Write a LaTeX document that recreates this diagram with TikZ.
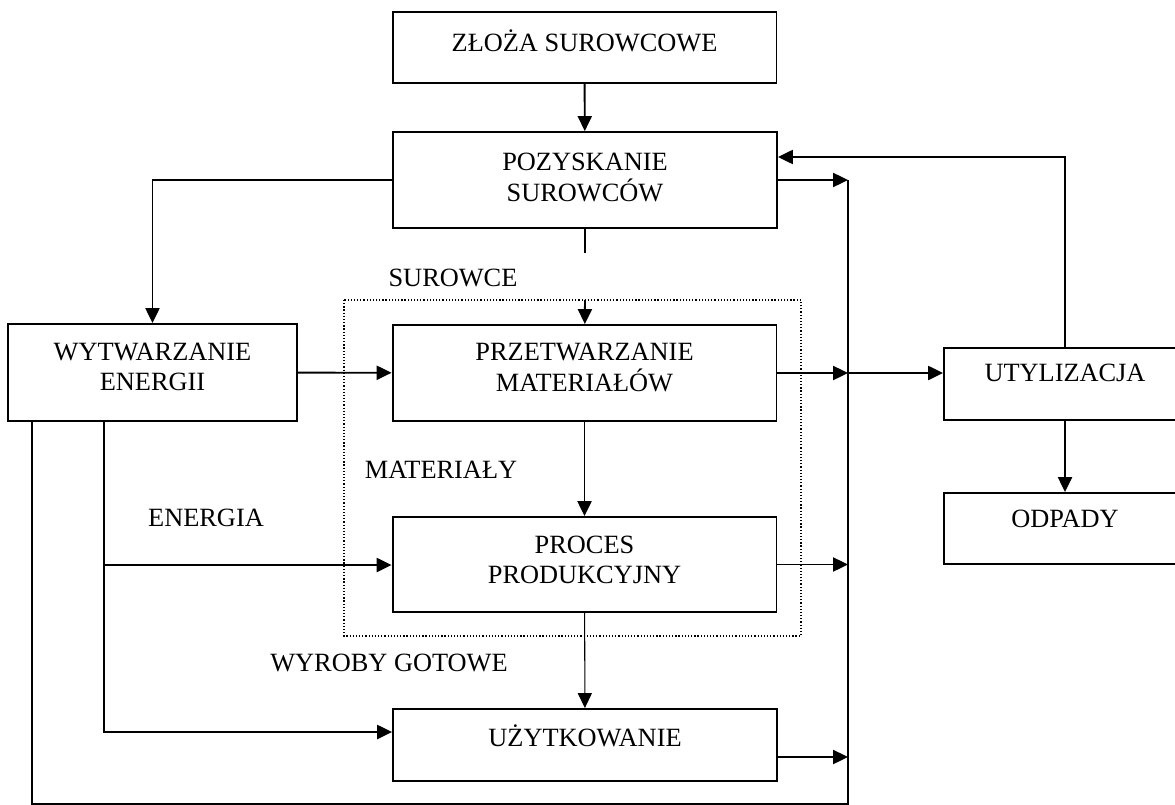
\documentclass[tikz,border=0pt]{standalone}
\usepackage{fontspec}
\setmainfont{Liberation Serif}
\usepackage{tikz}
\usetikzlibrary{arrows.meta}

% text block inside a box, lifted a little above the box centre
\newcommand{\up}[2]{\raisebox{#1}[\height][\depth]{\begin{tabular}{@{}c@{}}#2\end{tabular}}}

\tikzset{
  box/.style={draw, line width=1.1pt, inner sep=0pt, minimum width=7.68cm},
  lbl/.style={inner sep=0pt},
  arr/.style={-{Triangle[length=8.5pt,width=8pt]}},
  group/.style={line width=0.7pt, dash pattern=on 0.7pt off 1.1pt}
}

\begin{document}
\begin{tikzpicture}[x=0.02cm, y=-0.02cm, line width=1.1pt,
    font=\fontsize{15}{17}\selectfont]
    \useasboundingbox (0,0) rectangle (1175,804);

    % main column
    \node[box, minimum height=1.42cm] (zloza) at (584.5,47.5) {\up{1.5pt}{ZŁOŻA SUROWCOWE}};
    \node[box, minimum height=1.92cm] (pozysk) at (585,180) {\up{0pt}{POZYSKANIE\\SUROWCÓW}};
    \node[box, minimum height=1.92cm] (przetw) at (584.5,373) {\up{1.8pt}{PRZETWARZANIE\\MATERIAŁÓW}};
    \node[box, minimum height=1.90cm] (proces) at (584.5,564.5) {\up{1pt}{PROCES\\PRODUKCYJNY}};
    \node[box, minimum height=1.44cm] (uzytk) at (585,745) {\up{2.9pt}{UŻYTKOWANIE}};

    % side boxes
    \node[box, minimum width=5.78cm, minimum height=1.94cm] (wytw) at (152.5,372.5) {\up{1.5pt}{WYTWARZANIE\\ENERGII}};
    \node[box, minimum width=4.84cm, minimum height=1.44cm] (utyl) at (1065,384) {\up{4.6pt}{UTYLIZACJA}};
    \node[box, minimum width=4.84cm, minimum height=1.42cm] (odpady) at (1065,528.5) {\up{3.8pt}{ODPADY}};

    % dotted frame round the processing stages
    \draw[group] (344,300) rectangle (801,636);

    % flow labels
    \node[lbl] (surowce) at (453,278) {SUROWCE};
    \node[lbl] (materialy) at (441,470) {MATERIAŁY};
    \node[lbl] (energia) at (206,518) {ENERGIA};
    \node[lbl] (wyroby) at (389,663) {WYROBY GOTOWE};

    % helper points
    \coordinate (sgap) at (585,253);
    \coordinate (sin) at (585,300);
    \coordinate (ex) at (104,565);
    \coordinate (eu) at (104,732);
    \coordinate (loop) at (32,804);
    \coordinate (bustop) at (848,180);
    \coordinate (busbot) at (848,804);
    \coordinate (bu) at (848,373);
    \coordinate (u4) at (848,757);
    \coordinate (ret) at (1065,157);

    % material flow
    \draw[arr] (zloza) -- (pozysk);
    \draw (pozysk) -- (sgap);
    \draw[arr] (sin) -- (przetw);
    \draw[arr] (przetw) -- (proces);
    \draw[arr, line width=0.6pt] (proces) -- (uzytk);

    % energy supply
    \draw[arr] (pozysk.west) -| (wytw.north);
    \draw[arr] (wytw) -- (przetw);
    \draw[arr] (wytw.south -| eu) -- (eu) -- (eu -| uzytk.west);
    \draw[arr] (ex) -- (ex -| proces.west);

    % collecting line to utilisation
    \draw (wytw.south -| loop) -- (loop) -- (busbot) -- (bustop);
    \draw[arr] (pozysk.east) -- (pozysk.east -| bustop);
    \draw[arr] (przetw.east) -- (przetw.east -| bustop);
    \draw[arr] (proces.east) -- (proces.east -| bustop);
    \draw[arr] (u4 -| uzytk.east) -- (u4);
    \draw[arr] (bu) -- (bu -| utyl.west);

    % recycling back and waste
    \draw[arr] (utyl.north) -- (ret) -- (ret -| pozysk.east);
    \draw[arr] (utyl) -- (odpady);
\end{tikzpicture}
\end{document}
